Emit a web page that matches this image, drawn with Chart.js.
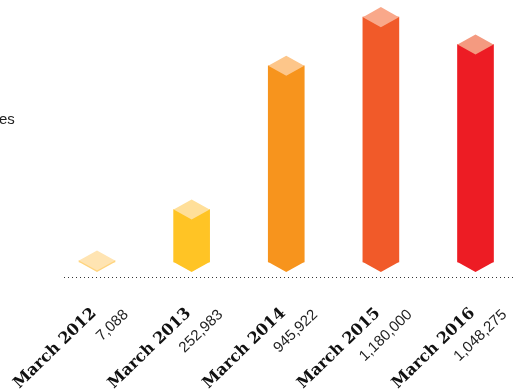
<!DOCTYPE html>
<html>
<head>
<meta charset="utf-8">
<script src="https://cdn.jsdelivr.net/npm/chart.js@4"></script>
<style>
  html, body { margin: 0; padding: 0; background: #fff; overflow: hidden; }
  #wrap { width: 516px; height: 390px; position: relative; }
</style>
</head>
<body>
<div id="wrap"><canvas id="licenceChart"></canvas></div>
<script>
var periods = ['March 2012', 'March 2013', 'March 2014', 'March 2015', 'March 2016'];
var totals = [7088, 252983, 945922, 1180000, 1048275];
var frontColors = ['#FFD47E', '#FFC425', '#F7941D', '#F15A29', '#ED1C24'];
var topColors = ['#FFE4B2', '#FFDF99', '#FDC68A', '#F9A88A', '#F49A80'];

var labelAngle = -44 * Math.PI / 180;

// draws the top face and the pointed bottom of each bar, the dotted base line and the slanted labels
var isoBars = {
    id: 'isoBars',
    afterDatasetsDraw: function(chart) {
        var ctx = chart.ctx;
        var meta = chart.getDatasetMeta(0);
        var baseY = chart.scales.y.getPixelForValue(0);
        ctx.save();
        meta.data.forEach(function(bar, i) {
            var p = bar.getProps(['x', 'y', 'base', 'width'], true);
            var hw = p.width / 2;
            var h = hw * 0.56;
            ctx.fillStyle = frontColors[i];
            ctx.beginPath();
            ctx.moveTo(p.x - hw, p.base);
            ctx.lineTo(p.x + hw, p.base);
            ctx.lineTo(p.x, p.base + h);
            ctx.closePath();
            ctx.fill();

            ctx.fillStyle = topColors[i];
            ctx.beginPath();
            ctx.moveTo(p.x, p.y - h);
            ctx.lineTo(p.x + hw, p.y);
            ctx.lineTo(p.x, p.y + h);
            ctx.lineTo(p.x - hw, p.y);
            ctx.closePath();
            ctx.fill();
        });

        ctx.strokeStyle = '#333';
        ctx.lineWidth = 1;
        ctx.setLineDash([1, 3]);
        ctx.beginPath();
        ctx.moveTo(chart.chartArea.left - 33, baseY + 15.5);
        ctx.lineTo(chart.width, baseY + 15.5);
        ctx.stroke();
        ctx.setLineDash([]);

        var xs = chart.scales.x;
        ctx.textAlign = 'right';
        ctx.textBaseline = 'middle';
        periods.forEach(function(label, i) {
            var x = xs.getPixelForValue(i);

            ctx.save();
            ctx.translate(x - 3, baseY + 49);
            ctx.rotate(labelAngle);
            ctx.fillStyle = '#111';
            ctx.font = 'bold 16px "DejaVu Serif", serif';
            ctx.fillText(label, 0, 0);
            ctx.restore();

            ctx.save();
            ctx.translate(x + 29, baseY + 50.5);
            ctx.rotate(labelAngle);
            ctx.fillStyle = '#222';
            ctx.font = '15px "Liberation Sans", Arial, sans-serif';
            ctx.fillText(totals[i].toLocaleString('en-US'), 0, 0);
            ctx.restore();
        });

        ctx.textAlign = 'left';
        ctx.textBaseline = 'alphabetic';
        ctx.fillStyle = '#222';
        ctx.font = '15px "Liberation Sans", Arial, sans-serif';
        ctx.fillText('es', -1, 124);
        ctx.restore();
    }
};

var ctxBars = document.getElementById('licenceChart');

var myBarChart = new Chart(ctxBars, {
    type: 'bar',
    data: {
        labels: periods,
        datasets: [{
            data: totals,
            backgroundColor: frontColors,
            barThickness: 36,
            borderWidth: 0,
            clip: false
        }]
    },
    options: {
        responsive: true,
        maintainAspectRatio: false,
        animation: false,
        events: [],
        layout: {
            padding: { left: 97, right: 40.5, top: 13, bottom: 128 }
        },
        plugins: {
            legend: { display: false },
            tooltip: { enabled: false }
        },
        scales: {
            x: {
                display: false,
                offset: false
            },
            y: {
                display: false,
                min: 0,
                max: 1200000
            }
        }
    },
    plugins: [isoBars]
});
</script>
</body>
</html>
